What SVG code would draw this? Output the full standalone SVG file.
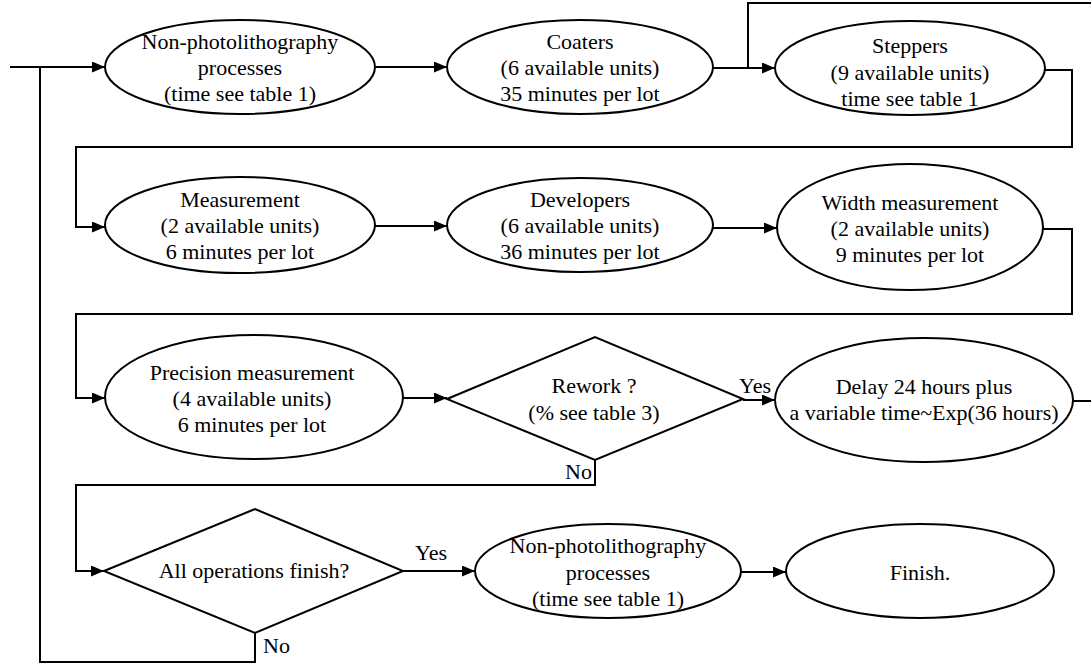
<svg xmlns="http://www.w3.org/2000/svg" width="1091" height="664" viewBox="0 0 1091 664">
<style>
.shape{fill:#fff;stroke:#000;stroke-width:2}
.conn{fill:none;stroke:#000;stroke-width:2}
text{font-family:'Liberation Serif','Tinos','Times New Roman',Times,'DejaVu Serif',serif;font-size:22px;fill:#000}
.c{text-anchor:middle}
</style>
<defs>
<marker id="arr" markerUnits="userSpaceOnUse" viewBox="0 0 13 11" refX="13" refY="5.5" markerWidth="13" markerHeight="11" orient="auto">
<path d="M0,0 L13,5.5 L0,11 Z" fill="#000"/>
</marker>
</defs>
<rect width="1091" height="664" fill="#fff"/>
<g id="connectors" font-family="Liberation Serif, serif">
<path class="conn" d="M10,67 H105" marker-end="url(#arr)"/>
<path class="conn" d="M40,67 V662 H255 V633"/>
<path class="conn" d="M376,67 H447" marker-end="url(#arr)"/>
<path class="conn" d="M713,68 H775" marker-end="url(#arr)"/>
<path class="conn" d="M748,68 V3 H1091"/>
<path class="conn" d="M1045,70 H1072 V147 H76 V227 H105" marker-end="url(#arr)"/>
<path class="conn" d="M375,226 H447" marker-end="url(#arr)"/>
<path class="conn" d="M713,228 H777" marker-end="url(#arr)"/>
<path class="conn" d="M1043,229 H1072 V314 H76 V398 H105" marker-end="url(#arr)"/>
<path class="conn" d="M403,398 H447" marker-end="url(#arr)"/>
<path class="conn" d="M743,400 H775" marker-end="url(#arr)"/>
<path class="conn" d="M1073,401 H1091"/>
<path class="conn" d="M595,460 V485 H76 V571 H104" marker-end="url(#arr)"/>
<path class="conn" d="M403,571 H475" marker-end="url(#arr)"/>
<path class="conn" d="M741,572 H786" marker-end="url(#arr)"/>
<text x="739" y="393">Yes</text>
<text x="592" y="479" text-anchor="end">No</text>
<text x="415" y="560">Yes</text>
<text x="263" y="653">No</text>
</g>
<g id="n1">
<ellipse class="shape" cx="240" cy="67" rx="135" ry="47"/>
<text class="c" x="240" y="49">Non-photolithography</text>
<text class="c" x="240" y="75">processes</text>
<text class="c" x="240" y="101">(time see table 1)</text>
</g>
<g id="n2">
<ellipse class="shape" cx="580" cy="67" rx="133" ry="47"/>
<text class="c" x="580" y="49">Coaters</text>
<text class="c" x="580" y="75">(6 available units)</text>
<text class="c" x="580" y="101">35 minutes per lot</text>
</g>
<g id="n3">
<ellipse class="shape" cx="910" cy="68" rx="135" ry="47"/>
<text class="c" x="910" y="53">Steppers</text>
<text class="c" x="910" y="80">(9 available units)</text>
<text class="c" x="910" y="106">time see table 1</text>
</g>
<g id="n4">
<ellipse class="shape" cx="240" cy="225" rx="135" ry="48"/>
<text class="c" x="240" y="207">Measurement</text>
<text class="c" x="240" y="233">(2 available units)</text>
<text class="c" x="240" y="259">6 minutes per lot</text>
</g>
<g id="n5">
<ellipse class="shape" cx="580" cy="225" rx="133" ry="47"/>
<text class="c" x="580" y="207">Developers</text>
<text class="c" x="580" y="233">(6 available units)</text>
<text class="c" x="580" y="259">36 minutes per lot</text>
</g>
<g id="n6">
<ellipse class="shape" cx="910" cy="227" rx="133" ry="63"/>
<text class="c" x="910" y="210">Width measurement</text>
<text class="c" x="910" y="236">(2 available units)</text>
<text class="c" x="910" y="262">9 minutes per lot</text>
</g>
<g id="n7">
<ellipse class="shape" cx="254" cy="397" rx="149" ry="62"/>
<text class="c" x="252" y="380">Precision measurement</text>
<text class="c" x="252" y="406">(4 available units)</text>
<text class="c" x="252" y="432">6 minutes per lot</text>
</g>
<g id="n8">
<polygon class="shape" points="447,399 595,337 743,399 595,460"/>
<text class="c" x="594" y="393">Rework ?</text>
<text class="c" x="594" y="420">(% see table 3)</text>
</g>
<g id="n9">
<ellipse class="shape" cx="924" cy="400" rx="149" ry="62"/>
<text class="c" x="924" y="394">Delay 24 hours plus</text>
<text class="c" x="924" y="420">a variable time~Exp(36 hours)</text>
</g>
<g id="n10">
<polygon class="shape" points="104,571 255,509 403,571 255,633"/>
<text class="c" x="254" y="578">All operations finish?</text>
</g>
<g id="n11">
<ellipse class="shape" cx="608" cy="571" rx="133" ry="47"/>
<text class="c" x="608" y="553">Non-photolithography</text>
<text class="c" x="608" y="580">processes</text>
<text class="c" x="608" y="606">(time see table 1)</text>
</g>
<g id="n12">
<ellipse class="shape" cx="920" cy="571" rx="134" ry="47"/>
<text class="c" x="920" y="580">Finish.</text>
</g>
</svg>
